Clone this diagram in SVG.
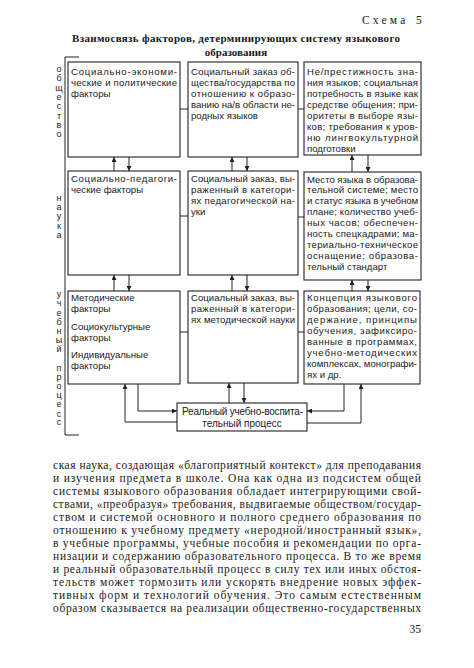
<svg xmlns="http://www.w3.org/2000/svg" width="474" height="668" viewBox="0 0 474 668">
<style>
.bx{fill:#fff;stroke:#222;stroke-width:1.1}
.t{font-family:"Liberation Sans","DejaVu Sans",sans-serif;font-size:9.6px;fill:#1a1a1a}
.s{font-family:"Liberation Sans","DejaVu Sans",sans-serif;font-size:9px;fill:#1a1a1a;text-anchor:middle}
.b{font-family:"Liberation Serif","DejaVu Serif",serif;font-size:11.5px;fill:#1a1a1a}
.h{font-family:"Liberation Serif","DejaVu Serif",serif;font-size:11px;font-weight:bold;fill:#1a1a1a}
.c{fill:none;stroke:#222;stroke-width:1}
</style>
<defs>
<marker id="ah" viewBox="0 0 8 8" refX="8" refY="4" markerWidth="5" markerHeight="5" orient="auto" markerUnits="userSpaceOnUse">
<path d="M0,0 L8,4 L0,8 z" fill="#222"/>
</marker>
</defs>
<rect width="474" height="668" fill="#fff"/>

<g id="header">
<text class="b" x="362" y="24" letter-spacing="3.2">Схема</text>
<text class="b" x="416" y="24">5</text>
<text class="h" x="72" y="42" textLength="328" lengthAdjust="spacing">Взаимосвязь факторов, детерминирующих систему языкового</text>
<text class="h" x="236" y="56" text-anchor="middle">образования</text>
</g>

<g id="side-labels">
<path class="c" d="M79,57 H65 V435 H79"/>
<text class="s" x="59" y="72">о</text><text class="s" x="59" y="81">б</text><text class="s" x="59" y="90.5">щ</text><text class="s" x="59" y="100">е</text><text class="s" x="59" y="109">с</text><text class="s" x="59" y="118.5">т</text><text class="s" x="59" y="127.5">в</text><text class="s" x="59" y="137">о</text>
<text class="s" x="59" y="200.5">н</text><text class="s" x="59" y="210">а</text><text class="s" x="59" y="219">у</text><text class="s" x="59" y="228.5">к</text><text class="s" x="59" y="238">а</text>
<text class="s" x="59" y="296.5">у</text><text class="s" x="59" y="306">ч</text><text class="s" x="59" y="315.5">е</text><text class="s" x="59" y="325">б</text><text class="s" x="59" y="334">н</text><text class="s" x="59" y="343">ы</text><text class="s" x="59" y="352">й</text>
<text class="s" x="59" y="370.5">п</text><text class="s" x="59" y="380">р</text><text class="s" x="59" y="389">о</text><text class="s" x="59" y="398">ц</text><text class="s" x="59" y="407">е</text><text class="s" x="59" y="416.5">с</text><text class="s" x="59" y="425">с</text>
</g>

<g id="connectors">
<path class="c" d="M180,109 H188 M298,109 H304 M180,216 H188 M298,217 H304 M180,332 H188 M298,332 H304"/>
<path class="c" d="M114,171 V157" marker-end="url(#ah)"/>
<path class="c" d="M129,157 V171" marker-end="url(#ah)"/>
<path class="c" d="M232,171 V157" marker-end="url(#ah)"/>
<path class="c" d="M247,157 V171" marker-end="url(#ah)"/>
<path class="c" d="M352,172 V155" marker-end="url(#ah)"/>
<path class="c" d="M368,155 V172" marker-end="url(#ah)"/>
<path class="c" d="M114,291 V275" marker-end="url(#ah)"/>
<path class="c" d="M129,275 V291" marker-end="url(#ah)"/>
<path class="c" d="M232,291 V275" marker-end="url(#ah)"/>
<path class="c" d="M247,275 V291" marker-end="url(#ah)"/>
<path class="c" d="M352,291 V280" marker-end="url(#ah)"/>
<path class="c" d="M368,280 V291" marker-end="url(#ah)"/>
<path class="c" d="M229,403 V383" marker-end="url(#ah)"/>
<path class="c" d="M244,383 V403" marker-end="url(#ah)"/>
<path class="c" d="M138,384 V411 H177" marker-end="url(#ah)"/>
<path class="c" d="M177,422 H125 V384" marker-end="url(#ah)"/>
<path class="c" d="M344,384 V411 H307" marker-end="url(#ah)"/>
<path class="c" d="M307,423 H361 V384" marker-end="url(#ah)"/>
</g>

<g id="n11">
<rect class="bx" x="68" y="62" width="112" height="95"/>
<text class="t" x="71" y="74.5" textLength="106" lengthAdjust="spacing">Социально-экономи-</text>
<text class="t" x="71" y="85.5" textLength="106" lengthAdjust="spacing">ческие и политические</text>
<text class="t" x="71" y="96.5">факторы</text>
</g>
<g id="n12">
<rect class="bx" x="188" y="62" width="110" height="95"/>
<text class="t" x="191" y="74.5" textLength="104" lengthAdjust="spacing">Социальный заказ об-</text>
<text class="t" x="191" y="85.5" textLength="104" lengthAdjust="spacing">щества/государства по</text>
<text class="t" x="191" y="96.5" textLength="104" lengthAdjust="spacing">отношению к образо-</text>
<text class="t" x="191" y="107.5" textLength="104" lengthAdjust="spacing">ванию на/в области не-</text>
<text class="t" x="191" y="118.5">родных языков</text>
</g>
<g id="n13">
<rect class="bx" x="304" y="62" width="117" height="93"/>
<text class="t" x="307" y="74.5" textLength="111" lengthAdjust="spacing">Не/престижность зна-</text>
<text class="t" x="307" y="85.5" textLength="111" lengthAdjust="spacing">ния языков; социальная</text>
<text class="t" x="307" y="96.5" textLength="111" lengthAdjust="spacing">потребность в языке как</text>
<text class="t" x="307" y="107.5" textLength="111" lengthAdjust="spacing">средстве общения; при-</text>
<text class="t" x="307" y="118.5" textLength="111" lengthAdjust="spacing">оритеты в выборе язы-</text>
<text class="t" x="307" y="129.5" textLength="111" lengthAdjust="spacing">ков; требования к уров-</text>
<text class="t" x="307" y="140.5" textLength="111" lengthAdjust="spacing">ню лингвокультурной</text>
<text class="t" x="307" y="151.5">подготовки</text>
</g>

<g id="n21">
<rect class="bx" x="68" y="171" width="112" height="104"/>
<text class="t" x="71" y="181.5" textLength="106" lengthAdjust="spacing">Социально-педагоги-</text>
<text class="t" x="71" y="192.5">ческие факторы</text>
</g>
<g id="n22">
<rect class="bx" x="188" y="171" width="110" height="104"/>
<text class="t" x="191" y="181.5" textLength="104" lengthAdjust="spacing">Социальный заказ, вы-</text>
<text class="t" x="191" y="192.5" textLength="104" lengthAdjust="spacing">раженный в категори-</text>
<text class="t" x="191" y="203.5" textLength="104" lengthAdjust="spacing">ях педагогической на-</text>
<text class="t" x="191" y="214.5">уки</text>
</g>
<g id="n23">
<rect class="bx" x="304" y="172" width="117" height="108"/>
<text class="t" x="307" y="182.5" textLength="111" lengthAdjust="spacing">Место языка в образова-</text>
<text class="t" x="307" y="193.4" textLength="111" lengthAdjust="spacing">тельной системе; место</text>
<text class="t" x="307" y="204.3" textLength="111" lengthAdjust="spacing">и статус языка в учебном</text>
<text class="t" x="307" y="215.2" textLength="111" lengthAdjust="spacing">плане; количество учеб-</text>
<text class="t" x="307" y="226.1" textLength="111" lengthAdjust="spacing">ных часов; обеспечен-</text>
<text class="t" x="307" y="237" textLength="111" lengthAdjust="spacing">ность спецкадрами; ма-</text>
<text class="t" x="307" y="247.9" textLength="111" lengthAdjust="spacing">териально-техническое</text>
<text class="t" x="307" y="258.8" textLength="111" lengthAdjust="spacing">оснащение; образова-</text>
<text class="t" x="307" y="269.7">тельный стандарт</text>
</g>

<g id="n31">
<rect class="bx" x="68" y="291" width="112" height="93"/>
<text class="t" x="71" y="300.5">Методические</text>
<text class="t" x="71" y="312">факторы</text>
<text class="t" x="71" y="329.5">Социокультурные</text>
<text class="t" x="71" y="341">факторы</text>
<text class="t" x="71" y="357.5">Индивидуальные</text>
<text class="t" x="71" y="369">факторы</text>
</g>
<g id="n32">
<rect class="bx" x="188" y="291" width="110" height="92"/>
<text class="t" x="191" y="300.5" textLength="104" lengthAdjust="spacing">Социальный заказ, вы-</text>
<text class="t" x="191" y="311.5" textLength="104" lengthAdjust="spacing">раженный в категори-</text>
<text class="t" x="191" y="322.5" textLength="104" lengthAdjust="spacing">ях методической науки</text>
</g>
<g id="n33">
<rect class="bx" x="304" y="291" width="116" height="93"/>
<text class="t" x="307" y="300.5" textLength="110" lengthAdjust="spacing">Концепция языкового</text>
<text class="t" x="307" y="311.5" textLength="110" lengthAdjust="spacing">образования; цели, со-</text>
<text class="t" x="307" y="322.5" textLength="110" lengthAdjust="spacing">держание, принципы</text>
<text class="t" x="307" y="333.5" textLength="110" lengthAdjust="spacing">обучения, зафиксиро-</text>
<text class="t" x="307" y="344.5" textLength="110" lengthAdjust="spacing">ванные в программах,</text>
<text class="t" x="307" y="355.5" textLength="110" lengthAdjust="spacing">учебно-методических</text>
<text class="t" x="307" y="366.5" textLength="110" lengthAdjust="spacing">комплексах, монографи-</text>
<text class="t" x="307" y="377.5">ях и др.</text>
</g>

<g id="n4">
<rect class="bx" x="177" y="403" width="130" height="28"/>
<text class="t" x="182" y="414.5" textLength="121" lengthAdjust="spacing" style="font-size:10px">Реальный учебно-воспита-</text>
<text class="t" x="242" y="426.5" text-anchor="middle" style="font-size:10px">тельный процесс</text>
</g>

<g id="body">
<text class="b" x="53" y="468.5" textLength="368" lengthAdjust="spacing">ская наука, создающая «благоприятный контекст» для преподавания</text>
<text class="b" x="53" y="481.5" textLength="368" lengthAdjust="spacing">и изучения предмета в школе. Она как одна из подсистем общей</text>
<text class="b" x="53" y="494.5" textLength="368" lengthAdjust="spacing">системы языкового образования обладает интегрирующими свой-</text>
<text class="b" x="53" y="507.5" textLength="368" lengthAdjust="spacing">ствами, «преобразуя» требования, выдвигаемые обществом/государ-</text>
<text class="b" x="53" y="520.5" textLength="368" lengthAdjust="spacing">ством и системой основного и полного среднего образования по</text>
<text class="b" x="53" y="533.5" textLength="368" lengthAdjust="spacing">отношению к учебному предмету «неродной/иностранный язык»,</text>
<text class="b" x="53" y="546.5" textLength="368" lengthAdjust="spacing">в учебные программы, учебные пособия и рекомендации по орга-</text>
<text class="b" x="53" y="559.5" textLength="368" lengthAdjust="spacing">низации и содержанию образовательного процесса. В то же время</text>
<text class="b" x="53" y="572.5" textLength="368" lengthAdjust="spacing">и реальный образовательный процесс в силу тех или иных обстоя-</text>
<text class="b" x="53" y="585.5" textLength="368" lengthAdjust="spacing">тельств может тормозить или ускорять внедрение новых эффек-</text>
<text class="b" x="53" y="598.5" textLength="368" lengthAdjust="spacing">тивных форм и технологий обучения. Это самым естественным</text>
<text class="b" x="53" y="611.5" textLength="368" lengthAdjust="spacing">образом сказывается на реализации общественно-государственных</text>
<text class="b" x="421" y="633" text-anchor="end">35</text>
</g>
</svg>
